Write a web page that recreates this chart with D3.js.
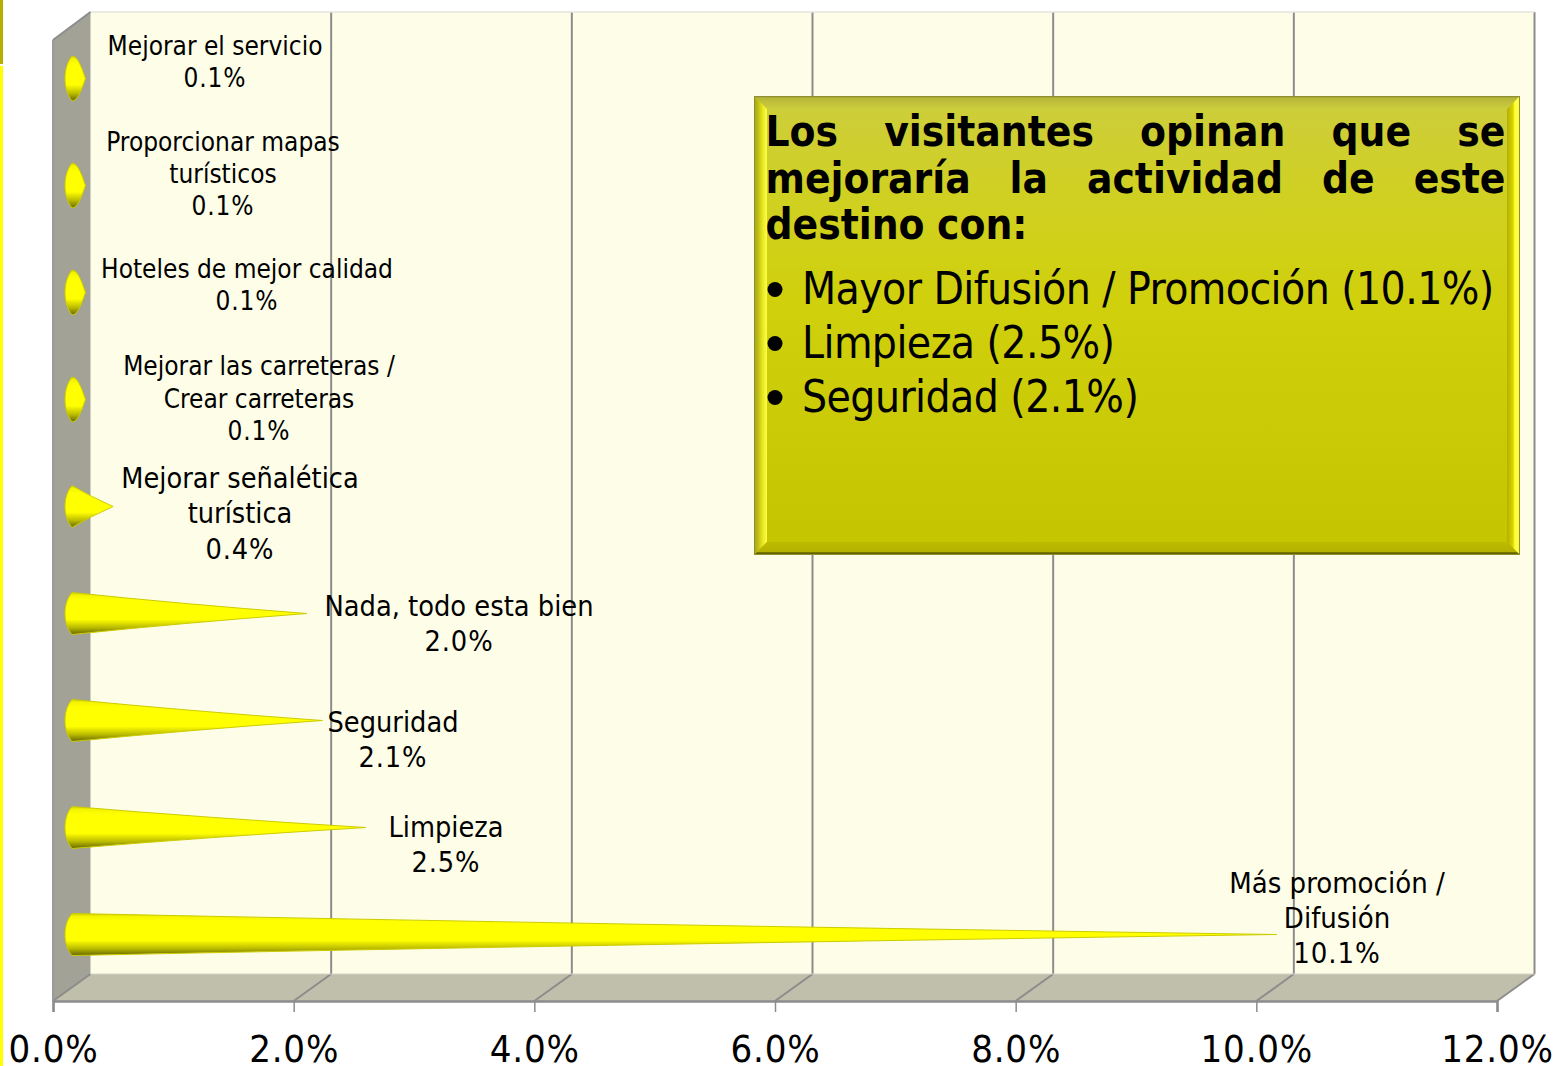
<!DOCTYPE html>
<html><head><meta charset="utf-8">
<script src="https://cdn.jsdelivr.net/npm/d3@7"></script>
<style>
html,body{margin:0;padding:0;background:#fff;overflow:hidden}
svg{display:block}
text{font-family:"DejaVu Sans Condensed","DejaVu Sans",sans-serif;font-stretch:condensed;fill:#000}
</style></head><body><svg id="c" width="1553" height="1066"></svg>
<script>
// ---- data ----
const categories = ["Mejorar el servicio","Proporcionar mapas turísticos","Hoteles de mejor calidad","Mejorar las carreteras / Crear carreteras","Mejorar señalética turística","Nada, todo esta bien","Seguridad","Limpieza","Más promoción / Difusión"];
const barValues = [0.17,0.17,0.17,0.17,0.4,2.01,2.14,2.5,10.07];
const valueLabels = ["0.1%","0.1%","0.1%","0.1%","0.4%","2.0%","2.1%","2.5%","10.1%"];
const labelLines = [["Mejorar el servicio"],["Proporcionar mapas","turísticos"],["Hoteles de mejor calidad"],["Mejorar las carreteras /","Crear carreteras"],["Mejorar señalética","turística"],["Nada, todo esta bien"],["Seguridad"],["Limpieza"],["Más promoción /","Difusión"]];
const axisTicks = [0,2,4,6,8,10,12];
const titleLines = ["Los visitantes opinan que se","mejoraría la actividad de este","destino con:"];
const bulletLines = ["Mayor Difusión / Promoción (10.1%)","Limpieza (2.5%)","Seguridad (2.1%)"];

// ---- layout (label placement, separate from the data) ----
const labelX = [215,223,247,259,240,459,393,446,1337];
const labelTop = [55,151,278,375,488,616,732,837,893];
const labelSize = [26,26,26,26,28.6,28.7,28.6,28.6,29];
const labelLead = [32,32,32,32.5,35.3,35,35,35,35];

const svg = d3.select("#c");
const front = {l:53,r:1497,b:1001};
const dx = 37.5, dy = 27, wallTop = 12;
const x = d3.scaleLinear().domain([0,12]).range([front.l,front.r]);
const y = d3.scaleBand().domain(categories).range([25,988]);
const coneBase = 65 - front.l;

const defs = svg.append("defs");
function grad(id,stops,vertical=true){
  const g = defs.append("linearGradient").attr("id",id).attr("x1",0).attr("y1",0)
    .attr("x2",vertical?0:1).attr("y2",vertical?1:0);
  stops.forEach(s=>g.append("stop").attr("offset",s[0]).attr("stop-color",s[1]));
}
grad("cone",[[0,"#c9c900"],[.06,"#f2f200"],[.18,"#ffff00"],[.64,"#ffff00"],[.84,"#b8b800"],[1,"#666600"]]);
grad("box",[[0,"#cdcd3e"],[.2,"#d0d024"],[.45,"#d0d00c"],[1,"#c4c400"]]);
grad("bl",[[0,"#a4a41c"],[.3,"#bcbc14"],[.65,"#e6e620"],[1,"#ffff45"]],false);
grad("br",[[0,"#b4b000"],[.45,"#d6d400"],[.6,"#ffff30"],[.85,"#ffff50"],[1,"#f4f400"]],false);
grad("bt",[[0,"#99993a"],[.2,"#b8b838"],[1,"#cdcd3e"]]);
grad("bb",[[0,"#bdbb00"],[.75,"#b4b200"],[.82,"#6a6a00"],[1,"#555500"]]);

// left page edge
svg.append("rect").attr("x",0).attr("y",0).attr("width",3).attr("height",64).attr("fill","#b5b000");
svg.append("rect").attr("x",0).attr("y",66).attr("width",3).attr("height",1000).attr("fill","#ffff00");

// walls
const poly = (pts,fill,stroke)=>svg.append("polygon").attr("points",pts.map(p=>p.join(",")).join(" ")).attr("fill",fill).attr("stroke",stroke||"none");
poly([[front.l+dx,wallTop],[front.r+dx,wallTop],[front.r+dx,front.b-dy],[front.l+dx,front.b-dy]],"#fefee8");
poly([[front.l,wallTop+28],[front.l+dx,wallTop],[front.l+dx,front.b-dy],[front.l,front.b]],"#a2a296");
poly([[front.l,front.b],[front.l+dx,front.b-dy],[front.r+dx,front.b-dy],[front.r,front.b]],"#bfbfac");

const lineCol = "#8c8c8c";
const seg=(a,b,c,d,w=2,col=lineCol)=>svg.append("line").attr("x1",a).attr("y1",b).attr("x2",c).attr("y2",d).attr("stroke",col).attr("stroke-width",w);
// gridlines on back wall + floor diagonals
axisTicks.forEach(t=>{
  const X=x(t);
  if(t>0) seg(X+dx,wallTop,X+dx,front.b-dy);
  seg(X,front.b,X+dx,front.b-dy);
});
seg(front.l+dx,wallTop,front.r+dx,wallTop,1.5,"#e4e4dc");
seg(front.l+dx,front.b-dy,front.r+dx,front.b-dy,1,"#d4d4c8");
seg(front.l,wallTop+28,front.l+dx,wallTop,2,"#8c8c8c");
seg(front.l,wallTop+28,front.l,front.b,2,"#9a9a9a");

// axis
const axis = d3.axisBottom(x).tickValues(axisTicks).tickSize(11).tickPadding(23.5).tickFormat(d=>d.toFixed(1)+"%");
const ag = svg.append("g").attr("transform",`translate(0,${front.b})`).call(axis);
ag.selectAll(".domain").attr("stroke",lineCol).attr("stroke-width",2.5);
ag.selectAll(".tick line").attr("stroke",lineCol).attr("stroke-width",1.5);
ag.selectAll("text").attr("font-size",38).attr("fill","#000").attr("dy","0.71em").attr("letter-spacing",.8)
  .style("font-family",'"DejaVu Sans Condensed","DejaVu Sans",sans-serif').style("font-stretch","condensed");

// cones
const halfH = 21;
svg.selectAll("path.cone").data(categories).join("path").attr("class","cone")
  .attr("fill","url(#cone)").attr("stroke","#cccc00").attr("stroke-width",1)
  .attr("d",(c,i)=>{
    const cy=y(c)+y.bandwidth()/2, tip=x(barValues[i])+coneBase, b=x(0)+coneBase, bx=b+7;
    const w=tip-bx;
    const side = w<30 ? 1.05 : .47;
    const h= w<30 ? halfH+1.5 : halfH;
    return `M${bx},${cy-h} C${b+1.5},${cy-h*.7} ${b},${cy-h*.3} ${b},${cy} C${b},${cy+h*.3} ${b+1.5},${cy+h*.7} ${bx},${cy+h}`+
      ` Q${bx+w*.45},${cy+h*side} ${tip},${cy}`+
      ` Q${bx+w*.45},${cy-h*side} ${bx},${cy-h}Z`;
  });

// data labels
categories.forEach((c,i)=>{
  const t = svg.append("text").attr("text-anchor","middle").attr("font-size",labelSize[i]);
  labelLines[i].forEach((s,k)=>t.append("tspan").attr("x",labelX[i]).attr("y",labelTop[i]+labelLead[i]*k).text(s));
  t.append("tspan").attr("x",labelX[i]).attr("y",labelTop[i]+labelLead[i]*labelLines[i].length)
    .attr("letter-spacing",.9).text(valueLabels[i]);
});

// callout box
const B={x:754,y:96,w:766,h:459,b:13};
const R=B.x+B.w,Bt=B.y+B.h;
svg.append("rect").attr("x",B.x).attr("y",B.y).attr("width",B.w).attr("height",B.h).attr("fill","url(#box)");
poly([[B.x,B.y],[R,B.y],[R-B.b,B.y+B.b],[B.x+B.b,B.y+B.b]],"url(#bt)");
poly([[B.x,B.y],[B.x+B.b,B.y+B.b],[B.x+B.b,Bt-B.b],[B.x,Bt]],"url(#bl)");
poly([[R,B.y],[R,Bt],[R-B.b,Bt-B.b],[R-B.b,B.y+B.b]],"url(#br)");
poly([[B.x,Bt],[B.x+B.b,Bt-B.b],[R-B.b,Bt-B.b],[R,Bt]],"url(#bb)");
svg.append("rect").attr("x",B.x+.5).attr("y",B.y+.5).attr("width",B.w-1).attr("height",B.h-1).attr("fill","none").attr("stroke","#8f8f30").attr("stroke-width",1);

// title: justified word by word
const tL=765.5,tR=1505.5,tY=[146,193,239];
titleLines.forEach((line,i)=>{
  const words=line.split(" ");
  const g=svg.append("g").attr("font-weight","bold").attr("font-size",42);
  const nodes=words.map(w=>g.append("text").attr("y",tY[i]).text(w));
  const ws=nodes.map(n=>n.node().getComputedTextLength());
  const total=d3.sum(ws);
  const gap=i<2?(tR-tL-total)/(words.length-1):12.5;
  let X=tL;
  nodes.forEach((n,k)=>{n.attr("x",X);X+=ws[k]+gap;});
});
// bullets
const bY=[304,358,412];
bulletLines.forEach((s,i)=>{
  svg.append("circle").attr("cx",775).attr("cy",bY[i]-14.5).attr("r",7.5).attr("fill","#000");
  svg.append("text").attr("x",802).attr("y",bY[i]).attr("font-size",44).attr("letter-spacing",-.58).text(s);
});
</script></body></html>
